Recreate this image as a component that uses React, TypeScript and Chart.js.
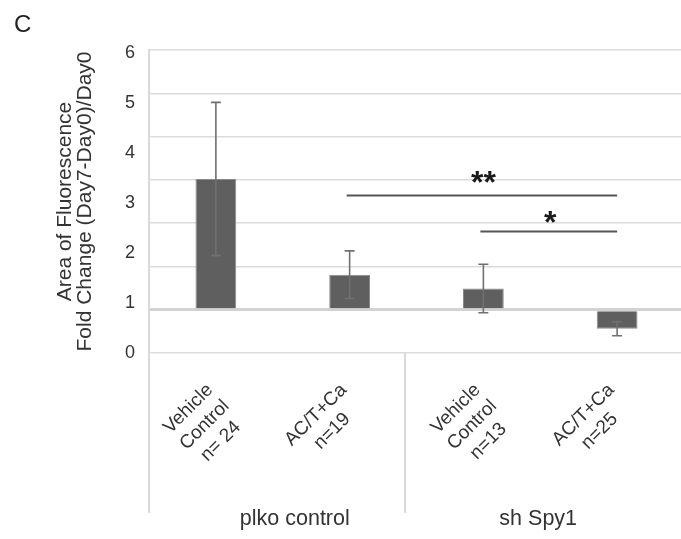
import React, { useEffect, useRef } from "react";
import { Chart, registerables } from "chart.js";

Chart.register(...registerables);

// ---- data ----
const CATEGORIES = ["Vehicle Control n= 24", "AC/T+Ca n=19", "Vehicle Control n=13", "AC/T+Ca n=25"];
const CATEGORY_LINES = [
  ["Vehicle", "Control", "n= 24"],
  ["AC/T+Ca", "n=19"],
  ["Vehicle", "Control", "n=13"],
  ["AC/T+Ca", "n=25"],
];
const MEANS = [4.02, 1.81, 1.49, 0.56];
const ERRORS = [1.77, 0.55, 0.56, 0.16];
const BASELINE = 1;
const GRID_MAX = 7;
const Y_TICKS = [0, 1, 2, 3, 4, 5, 6];
const Y_LABEL_MAX = 6.06;
const GROUPS = ["plko control", "sh Spy1"];
const GROUP_CENTERS = [0.59, 2.41];
const GROUP_DIVIDER = 1.415;
const SIG_LABELS = ["**", "*"];
const SIG_FROM = [1, 2];
const SIG_TO = [3, 3];
const SIG_LINE_Y = [3.64, 2.82];
const SIG_TEXT_Y = [4.13, 3.19];
const Y_TITLE = ["Area of Fluorescence", "Fold Change (Day7-Day0)/Day0"];

const FONT = "'Liberation Sans', Arial, Helvetica, sans-serif";
const TEXT = "#333333";

const decor = {
  id: "decor",
  afterDatasetsDraw(chart: any) {
    const { ctx } = chart;
    const xs = chart.scales.x;
    const ys = chart.scales.y;
    const meta = chart.getDatasetMeta(0);
    ctx.save();
    // error bars
    ctx.strokeStyle = "#707070";
    ctx.lineWidth = 1.6;
    meta.data.forEach((bar: any, i: number) => {
      const cx = bar.x;
      const yt = ys.getPixelForValue(MEANS[i] + ERRORS[i]);
      const yb = ys.getPixelForValue(MEANS[i] - ERRORS[i]);
      ctx.beginPath();
      ctx.moveTo(cx, yt);
      ctx.lineTo(cx, yb);
      ctx.moveTo(cx - 5, yt);
      ctx.lineTo(cx + 5, yt);
      ctx.moveTo(cx - 5, yb);
      ctx.lineTo(cx + 5, yb);
      ctx.stroke();
    });
    // significance brackets
    SIG_LABELS.forEach((lab, k) => {
      const x1 = xs.getPixelForValue(SIG_FROM[k]) - 3;
      const x2 = xs.getPixelForValue(SIG_TO[k]);
      const ly = Math.round(ys.getPixelForValue(SIG_LINE_Y[k])) + 0.5;
      ctx.strokeStyle = "#555555";
      ctx.lineWidth = 2;
      ctx.beginPath();
      ctx.moveTo(x1, ly);
      ctx.lineTo(x2, ly);
      ctx.stroke();
      const size = 32;
      ctx.font = `bold ${size}px ${FONT}`;
      ctx.fillStyle = "#1a1a1a";
      ctx.textAlign = "center";
      ctx.textBaseline = "alphabetic";
      const tx = xs.getPixelForValue((SIG_FROM[k] + SIG_TO[k]) / 2);
      const ty = ys.getPixelForValue(SIG_TEXT_Y[k]) + size * 0.575;
      ctx.fillText(lab, tx, ty);
    });
    ctx.restore();
  },
  afterDraw(chart: any) {
    const { ctx, chartArea } = chart;
    const xs = chart.scales.x;
    const bottom = chartArea.bottom;
    ctx.save();
    // category labels, rotated -45deg, centred lines
    ctx.fillStyle = TEXT;
    ctx.font = `19px ${FONT}`;
    ctx.textAlign = "center";
    ctx.textBaseline = "middle";
    const lh = 23;
    CATEGORY_LINES.forEach((lines, i) => {
      const ax = xs.getPixelForValue(i) - 14;
      const ay = bottom + 26;
      const wmax = Math.max(...lines.map((l) => ctx.measureText(l).width));
      ctx.save();
      ctx.translate(ax, ay);
      ctx.rotate(-Math.PI / 4);
      lines.forEach((l, k) => ctx.fillText(l, -wmax / 2, lh * (k + 0.5)));
      ctx.restore();
    });
    // axis extension + group divider
    ctx.strokeStyle = "#d9d9d9";
    ctx.lineWidth = 2;
    const dx = Math.round(xs.getPixelForValue(GROUP_DIVIDER));
    ctx.beginPath();
    ctx.moveTo(chartArea.left, bottom);
    ctx.lineTo(chartArea.left, bottom + 160);
    ctx.moveTo(dx, bottom);
    ctx.lineTo(dx, bottom + 160);
    ctx.stroke();
    // group labels
    ctx.font = `21.5px ${FONT}`;
    ctx.textBaseline = "alphabetic";
    ctx.textAlign = "center";
    GROUPS.forEach((g, k) => {
      ctx.fillText(g, xs.getPixelForValue(GROUP_CENTERS[k]), bottom + 172);
    });
    ctx.restore();
  },
};

export default function App() {
  const ref = useRef<HTMLCanvasElement>(null);
  useEffect(() => {
    if (!ref.current) return;
    const chart = new Chart(ref.current, {
      type: "bar",
      data: {
        labels: CATEGORIES,
        datasets: [
          {
            data: MEANS,
            base: BASELINE,
            yAxisID: "y",
            backgroundColor: "#5f5f5f",
            borderColor: "#8a8a8a",
            borderWidth: 1,
            barPercentage: 0.305,
            categoryPercentage: 1,
          } as any,
        ],
      },
      options: {
        responsive: false,
        animation: false,
        devicePixelRatio: 1,
        layout: { padding: { top: 50, left: 0, right: 0, bottom: 0 } },
        plugins: { legend: { display: false }, tooltip: { enabled: false } },
        scales: {
          x: {
            type: "category",
            grid: { display: false },
            border: { display: false },
            ticks: { display: false },
            afterFit: (s: any) => {
              s.height = 186;
            },
          },
          yLabel: {
            position: "left",
            min: 0,
            max: Y_LABEL_MAX,
            grid: { display: false, drawTicks: false },
            border: { display: true, color: "#d9d9d9", width: 2 },
            ticks: { color: TEXT, font: { family: FONT, size: 18 }, padding: 14 },
            afterBuildTicks: (s: any) => {
              s.ticks = Y_TICKS.map((v) => ({ value: v }));
            },
            title: {
              display: true,
              text: Y_TITLE,
              color: TEXT,
              font: { family: FONT, size: 21, lineHeight: "20px" },
              padding: { top: 55, bottom: 0 },
            },
            afterFit: (s: any) => {
              s.width = 149;
            },
          },
          y: {
            position: "left",
            min: 0,
            max: GRID_MAX,
            ticks: { display: false, stepSize: 1 },
            grid: {
              drawTicks: false,
              color: (c: any) => (c.tick && c.tick.value === BASELINE ? "#d2d2d2" : "#dcdcdc"),
              lineWidth: (c: any) => (c.tick && c.tick.value === BASELINE ? 3 : 1.5),
            },
            border: { display: false },
            afterFit: (s: any) => {
              s.width = 0;
            },
          },
        } as any,
      },
      plugins: [decor],
    });
    return () => chart.destroy();
  }, []);

  return (
    <div
      style={{
        position: "fixed",
        left: 0,
        top: 0,
        width: 681,
        height: 539,
        overflow: "hidden",
        background: "#ffffff",
      }}
    >
      <canvas ref={ref} width={684} height={539} style={{ display: "block" }} />
      <div
        style={{
          position: "absolute",
          left: 14,
          top: 12,
          fontFamily: FONT,
          fontSize: 24,
          lineHeight: "24px",
          color: "#222222",
        }}
      >
        C
      </div>
    </div>
  );
}
